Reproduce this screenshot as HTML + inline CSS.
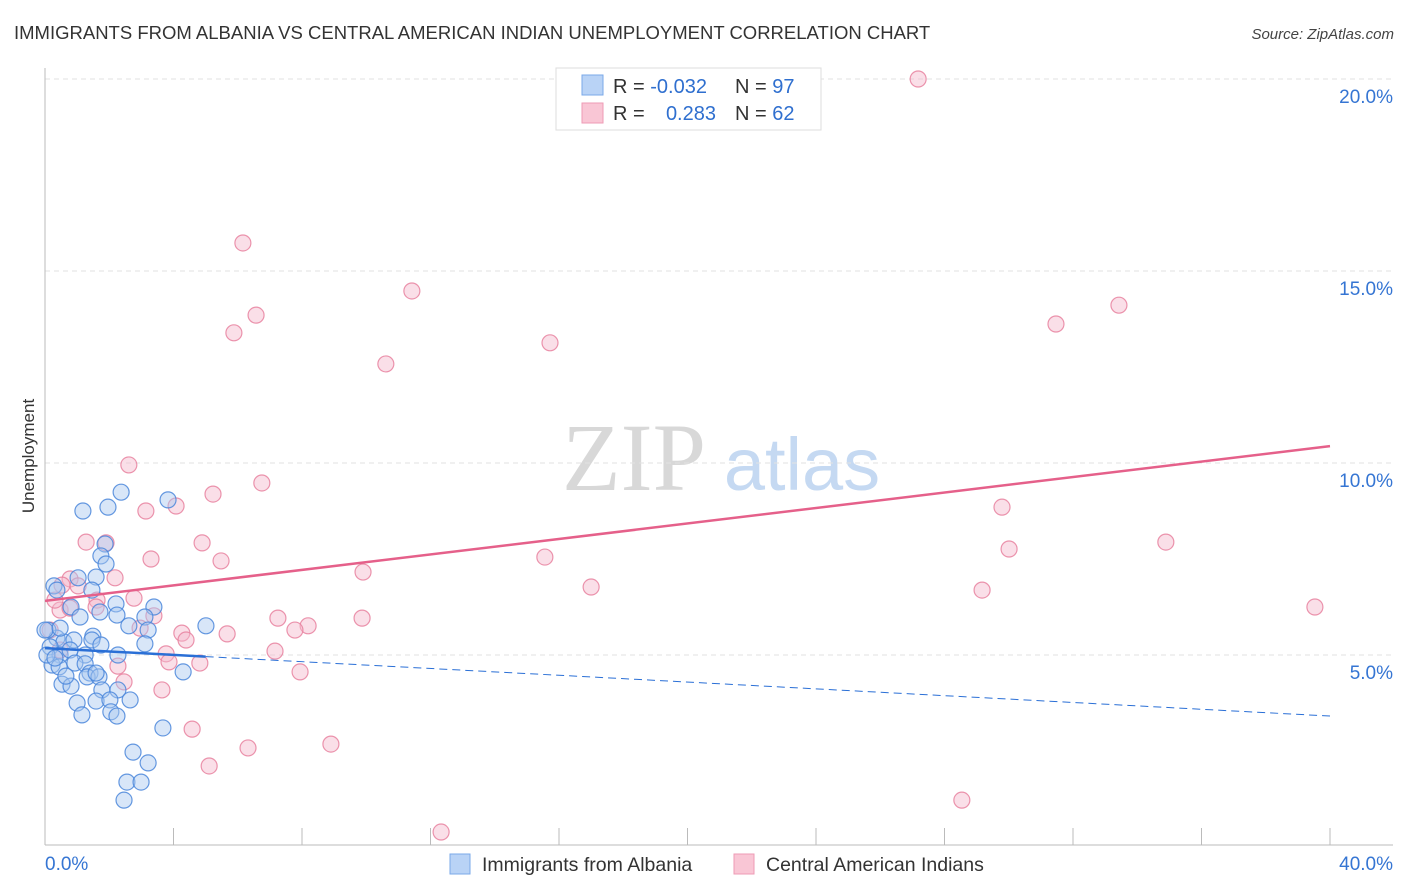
<!DOCTYPE html>
<html><head><meta charset="utf-8">
<style>
body{margin:0;background:#fff;font-family:"Liberation Sans",sans-serif;}
svg{display:block}
</style></head>
<body>
<svg id="chart" width="1406" height="892" xmlns="http://www.w3.org/2000/svg">
<text x="14" y="39" font-size="18.5" fill="#333">IMMIGRANTS FROM ALBANIA VS CENTRAL AMERICAN INDIAN UNEMPLOYMENT CORRELATION CHART</text>
<text x="1394" y="39" font-size="15" fill="#444" font-style="italic" text-anchor="end">Source: ZipAtlas.com</text>
<text x="634" y="490" font-size="96" fill="#d8d8d8" font-family="Liberation Serif,serif" text-anchor="middle">ZIP</text>
<text x="802" y="490" font-size="74" fill="#c5d9f2" text-anchor="middle">atlas</text>
<g id="grid"></g>
<g id="axes"></g>
<g id="marks"></g>
<text transform="translate(34,456) rotate(-90)" font-size="17" fill="#333" text-anchor="middle">Unemployment</text>
<g>
<rect x="556" y="68" width="265" height="62" fill="#fff" stroke="#ddd"/>
<rect x="582" y="75" width="21" height="20" fill="#b9d3f6" stroke="#7aa8e8"/>
<rect x="582" y="103" width="21" height="20" fill="#f9c6d5" stroke="#ee9bb5"/>
<text x="613" y="93" font-size="20" fill="#333">R = <tspan fill="#2f6fcf">-0.032</tspan></text>
<text x="735" y="93" font-size="20" fill="#333">N = <tspan fill="#2f6fcf">97</tspan></text>
<text x="613" y="120" font-size="20" fill="#333">R = </text>
<text x="716" y="120" font-size="20" fill="#2f6fcf" text-anchor="end">0.283</text>
<text x="735" y="120" font-size="20" fill="#333">N = <tspan fill="#2f6fcf">62</tspan></text>
</g>
<g>
<rect x="450" y="854" width="20" height="20" fill="#b9d3f6" stroke="#7aa8e8"/>
<text x="482" y="871" font-size="19.5" fill="#333">Immigrants from Albania</text>
<rect x="734" y="854" width="20" height="20" fill="#f9c6d5" stroke="#ee9bb5"/>
<text x="766" y="871" font-size="19.5" fill="#333">Central American Indians</text>
</g>
</svg>
<script>
const xTicks=[0,5,10,15,20,25,30,35,40];
const yTicks=[5,10,15,20];
const yTickLabels=["5.0%","10.0%","15.0%","20.0%"];
const blueX=[2.37,1.18,1.96,3.83,1.87,1.74,1.59,1.90,1.03,0.28,0.37,0.81,1.46,2.21,3.39,2.24,3.11,1.09,2.61,3.21,5.01,0.37,0.59,0.90,1.49,1.46,0.09,0.16,0.47,0.78,1.25,1.74,2.27,3.11,0.22,0.44,0.93,1.25,1.40,0.53,0.81,0.65,1.31,1.68,1.59,4.30,2.27,1.77,1.00,1.59,2.02,2.65,1.15,2.05,2.24,3.67,2.74,3.21,2.55,2.99,2.46,0.06,0.31,0.0,0.47,1.71];
const blueY=[9.24,8.75,8.85,9.04,7.89,7.58,7.03,7.37,7.01,6.80,6.69,6.25,6.69,6.33,6.25,6.04,5.99,5.99,5.76,5.65,5.76,5.44,5.34,5.39,5.49,5.39,5.65,5.21,5.00,5.13,5.00,5.26,5.00,5.29,4.74,4.69,4.79,4.77,4.53,4.24,4.19,4.45,4.43,4.43,4.53,4.56,4.09,4.09,3.75,3.80,3.83,3.83,3.44,3.52,3.41,3.10,2.47,2.19,1.69,1.69,1.22,5.00,4.92,5.65,5.70,6.12];
const pinkX=[27.18,6.16,11.42,6.57,33.43,5.88,31.47,15.72,10.61,2.61,6.75,5.23,4.08,3.14,29.79,4.89,1.90,1.28,34.89,3.30,5.48,30.01,15.56,9.90,2.18,0.78,0.53,1.03,17.00,29.17,2.77,1.62,0.47,0.78,3.39,1.59,39.53,9.87,7.25,8.19,7.78,4.26,4.39,5.67,2.96,3.77,7.16,3.86,4.82,2.27,7.94,2.46,3.64,4.58,6.32,8.90,5.11,28.54,12.33,0.31,0.16,0.47];
const pinkY=[20.0,15.73,14.48,13.85,14.11,13.39,13.62,13.13,12.58,9.95,9.48,9.19,8.88,8.75,8.85,7.92,7.92,7.94,7.94,7.50,7.45,7.76,7.55,7.16,7.01,6.98,6.82,6.80,6.77,6.69,6.48,6.43,6.17,6.22,6.02,6.25,6.25,5.96,5.96,5.76,5.65,5.57,5.39,5.55,5.70,5.03,5.10,4.82,4.79,4.71,4.56,4.30,4.09,3.07,2.58,2.68,2.11,1.22,0.39,6.43,5.65,5.13];
const pinkTrend=[6.41,10.44];
const blueTrend=[5.18,3.41];
const blueSolidEnd=5;

const NS="http://www.w3.org/2000/svg";
const X0=45,X1=1330,Y0=847,PX=1285/40,PY=38.4;
function sx(v){return X0+v*PX;}
function sy(v){return Y0-v*PY;}
function mk(tag,attrs,parent){const e=document.createElementNS(NS,tag);for(const k in attrs)e.setAttribute(k,attrs[k]);parent.appendChild(e);return e;}
const grid=document.getElementById('grid'),axes=document.getElementById('axes'),marks=document.getElementById('marks');
yTicks.forEach((t,i)=>{
 const l=mk('line',{x1:45,x2:1393,y1:sy(t),y2:sy(t),stroke:'#e2e2e2','stroke-dasharray':'5,4'},grid);
 
 
 const tx=mk('text',{x:1393,y:sy(t)+24,'font-size':19,fill:'#3575d3','text-anchor':'end'},axes);
 tx.textContent=yTickLabels[i];
 
 
});
const ax=mk('line',{x1:45,x2:45,y1:68,y2:845,stroke:'#bbb'},axes);


const bx=mk('line',{x1:45,x2:1393,y1:845,y2:845,stroke:'#bbb'},axes);


for(let v=0;v<=40;v+=40/10){
 const t=mk('line',{x1:sx(v),x2:sx(v),y1:828,y2:845,stroke:'#bbb'},axes);
 
 
}
const xl=mk('text',{x:45,y:870,'font-size':19,fill:'#3575d3'},axes);xl.textContent=xTicks[0].toFixed(1)+'%';


const xr=mk('text',{x:1393,y:870,'font-size':19,fill:'#3575d3','text-anchor':'end'},axes);xr.textContent=xTicks[xTicks.length-1].toFixed(1)+'%';


function pts(xs,ys,fill,stroke,name){
 xs.forEach((x,i)=>{
  const c=mk('circle',{cx:sx(x),cy:sy(ys[i]),r:8,fill:fill,'fill-opacity':0.45,stroke:stroke,'stroke-width':1.2,'stroke-opacity':0.85},marks);
  
  
 });
}
pts(pinkX,pinkY,'#f5b8cb','#e8819f','point-central-american');
pts(blueX,blueY,'#a9c8f0','#4a86db','point-albania');
const pl=mk('line',{x1:sx(0),y1:sy(pinkTrend[0]),x2:sx(40),y2:sy(pinkTrend[1]),stroke:'#e5608a','stroke-width':2.5},marks);


const bAt=v=>blueTrend[0]+(blueTrend[1]-blueTrend[0])*v/40;
const bl=mk('line',{x1:sx(0),y1:sy(bAt(0)),x2:sx(blueSolidEnd),y2:sy(bAt(blueSolidEnd)),stroke:'#2a6fd6','stroke-width':2.5},marks);


const bd=mk('line',{x1:sx(blueSolidEnd),y1:sy(bAt(blueSolidEnd)),x2:sx(40),y2:sy(bAt(40)),stroke:'#2a6fd6','stroke-width':1,'stroke-dasharray':'8,5'},marks);


</script>
</body></html>
